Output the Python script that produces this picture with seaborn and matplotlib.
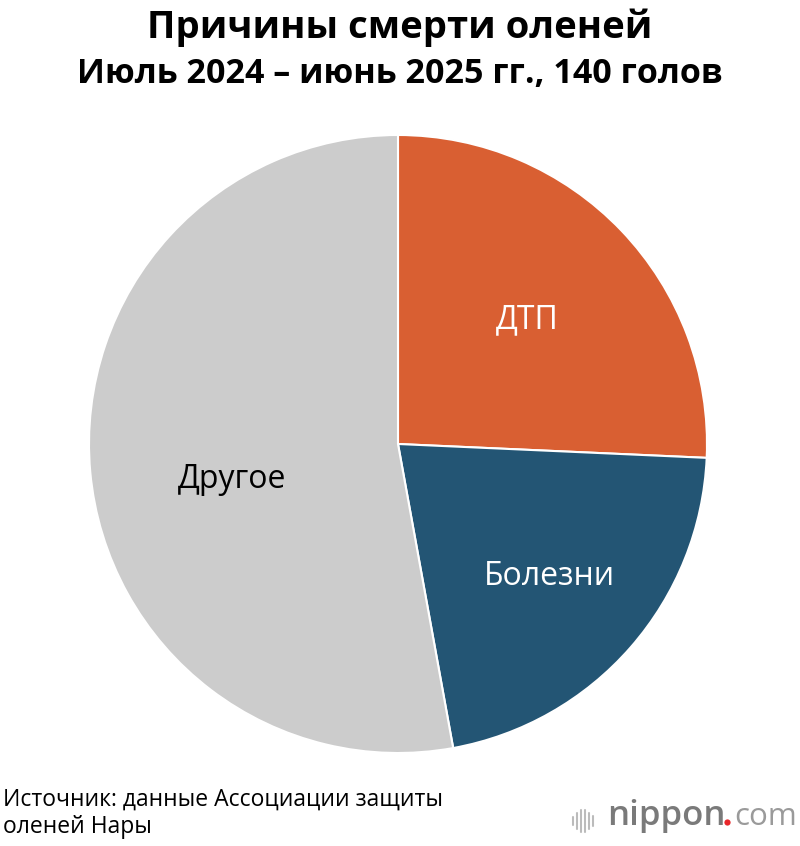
import matplotlib
matplotlib.use("Agg")
import matplotlib.pyplot as plt
import seaborn as sns
import numpy as np
from matplotlib.lines import Line2D

sns.set_theme(style="white")
plt.rcParams['font.family'] = ['Open Sans', 'DejaVu Sans']

categories = ["ДТП", "Болезни", "Другое"]
values = [36, 30, 74]
colors = ["#D95F32", "#235574", "#CCCCCC"]
label_colors = ["white", "white", "black"]
label_radius = [0.58, 0.65, 0.55]

title1 = "Причины смерти оленей"
title2 = "Июль 2024 – июнь 2025 гг., 140 голов"
source = "Источник: данные Ассоциации защиты\nоленей Нары"

W, H = 800, 846
fig = plt.figure(figsize=(W / 100, H / 100), dpi=100)
cx, cy, R = 398, 444, 309
ax = fig.add_axes([(cx - R) / W, (H - cy - R) / H, 2 * R / W, 2 * R / H])

wedges, _ = ax.pie(values, colors=colors, startangle=90, counterclock=False,
                   wedgeprops=dict(edgecolor="white", linewidth=1.5))
ax.set_xlim(-1, 1)
ax.set_ylim(-1, 1)
ax.set_aspect("auto")
ax.axis("off")

offsets = [0, 0, 7]
for w, lab, c, r, off in zip(wedges, categories, label_colors, label_radius, offsets):
    ang = np.deg2rad((w.theta1 + w.theta2) / 2 + off)
    ax.text(r * np.cos(ang), r * np.sin(ang), lab, ha="center", va="center",
            fontsize=23, color=c)

fig.text(0.5, 1 - 28 / H, title1, ha="center", va="center", fontsize=27.5,
         fontweight="bold", color="black")
fig.text(0.5, 1 - 74 / H, title2, ha="center", va="center", fontsize=24.5,
         fontweight="bold", color="black")
fig.text(3 / W, 1 - 813 / H, source, ha="left", va="center", fontsize=16.5,
         color="black", linespacing=1.2)

# logo
base = 1 - 825 / H
fig.text(607 / W, base, "nippon", ha="left", va="baseline", fontsize=25,
         fontweight="semibold", color="#7a7a7a")
fig.add_artist(Line2D([727 / W], [1 - 822 / H], marker="o", markersize=4.5,
                      markeredgewidth=0, color="#e8262a", linestyle="none"))
fig.text(734 / W, base, "com", ha="left", va="baseline", fontsize=22.5,
         color="#9a9a9a")
bar_x = [573, 577, 581, 585, 589, 593]
bar_h = [8, 16, 22, 22, 16, 10]
for bx, bh in zip(bar_x, bar_h):
    fig.add_artist(Line2D([bx / W, bx / W], [1 - (821 + bh / 2) / H, 1 - (821 - bh / 2) / H],
                          color="#bbbbbb", linewidth=1.5))

fig.savefig("out.png", dpi=100, facecolor="white")
